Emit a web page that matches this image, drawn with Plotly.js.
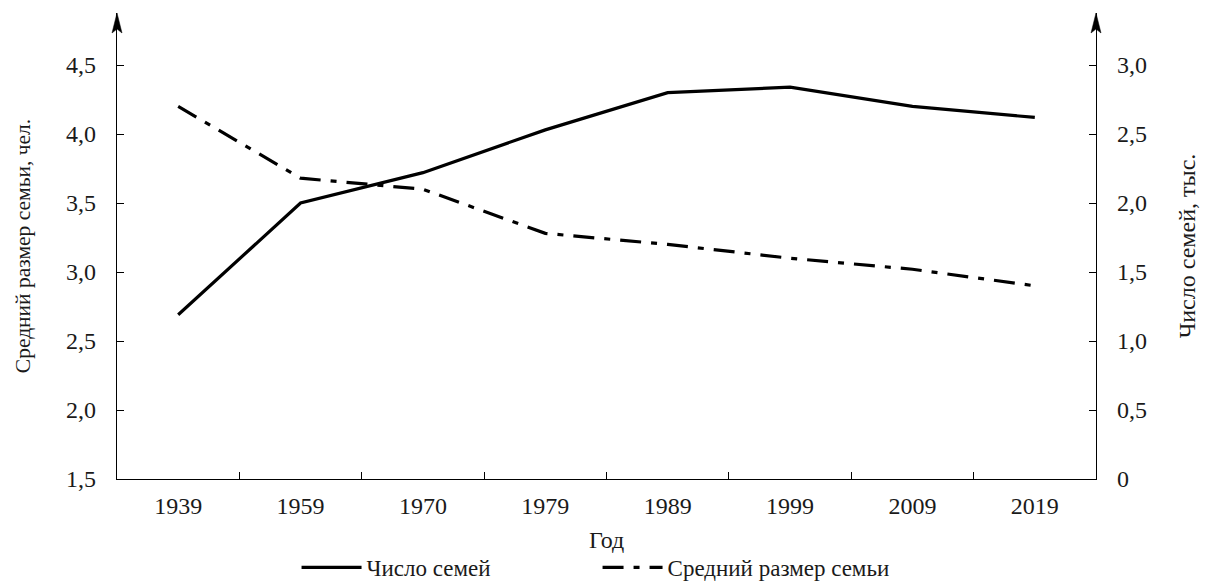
<!DOCTYPE html>
<html>
<head>
<meta charset="utf-8">
<script src="https://cdn.plot.ly/plotly-3.0.1.min.js"></script>
<style>html,body{margin:0;padding:0;background:#fff;}#chart{width:1205px;height:583px;}</style>
</head>
<body>
<div id="chart"></div>
<script>
const years = ['1939', '1959', '1970', '1979', '1989', '1999', '2009', '2019'];
const familiesCount = [1.19, 2.0, 2.22, 2.53, 2.8, 2.84, 2.7, 2.62];
const avgFamilySize = [4.2, 3.68, 3.6, 3.28, 3.2, 3.1, 3.02, 2.9];
const leftTickVals = [1.5, 2.0, 2.5, 3.0, 3.5, 4.0, 4.5];
const leftTickText = ['1,5', '2,0', '2,5', '3,0', '3,5', '4,0', '4,5'];
const rightTickVals = [0, 0.5, 1.0, 1.5, 2.0, 2.5, 3.0];
const rightTickText = ['0', '0,5', '1,0', '1,5', '2,0', '2,5', '3,0'];
const xTitle = 'Год';

const FONT = 'Liberation Serif, Times New Roman, serif';
const TXT = '#1a1a1a';
const black = '#000';

const traces = [
  {
    x: years, y: familiesCount, yaxis: 'y2', type: 'scatter', mode: 'lines',
    name: 'Число семей',
    line: {color: black, width: 3.2}
  },
  {
    x: years, y: avgFamilySize, yaxis: 'y', type: 'scatter', mode: 'lines',
    name: 'Средний размер семьи',
    line: {color: black, width: 3.2, dash: '21px,10px,6px,10px'}
  }
];

const arrow = (xa) => ({
  type: 'path', xref: 'paper', yref: 'paper',
  xsizemode: 'pixel', ysizemode: 'pixel', xanchor: xa, yanchor: 1,
  path: 'M0,0 L-5,-20 L0,-16 L5,-20 Z',
  fillcolor: black, line: {color: black, width: 0.5}
});

const layout = {
  width: 1205, height: 583,
  margin: {l: 117, r: 109, t: 13, b: 104, autoexpand: false},
  paper_bgcolor: '#fff', plot_bgcolor: '#fff',
  font: {family: FONT, size: 22, color: TXT},
  showlegend: true,
  legend: {
    orientation: 'h', xref: 'paper', x: 0.1834, xanchor: 'left',
    yref: 'paper', y: -0.236, yanchor: 'bottom',
    font: {family: FONT, size: 23, color: TXT},
    itemwidth: 60, entrywidth: 226, entrywidthmode: 'pixels',
    bgcolor: 'rgba(0,0,0,0)'
  },
  xaxis: {
    type: 'category', range: [-0.5, 7.5],
    showline: true, linecolor: black, linewidth: 1.3,
    ticks: 'inside', ticklen: 7, tickwidth: 1, tickcolor: black,
    tickson: 'boundaries', showgrid: false, zeroline: false,
    ticklabelstandoff: 5,
    tickfont: {family: FONT, size: 24, color: TXT},
    fixedrange: true
  },
  yaxis: {
    range: [1.5, 4.877], showline: true, linecolor: black, linewidth: 1.3,
    ticks: 'inside', ticklen: 7, tickwidth: 1, tickcolor: black,
    tickvals: leftTickVals, ticktext: leftTickText,
    showgrid: false, zeroline: false,
    ticklabelstandoff: 15,
    tickfont: {family: FONT, size: 24, color: TXT},
    title: {text: 'Средний размер семьи, чел.', font: {family: FONT, size: 21.5, color: TXT}, standoff: 29},
    fixedrange: true
  },
  yaxis2: {
    overlaying: 'y', side: 'right',
    range: [0, 3.377], showline: true, linecolor: black, linewidth: 1.3,
    ticks: 'inside', ticklen: 7, tickwidth: 1, tickcolor: black,
    tickvals: rightTickVals, ticktext: rightTickText,
    showgrid: false, zeroline: false,
    ticklabelstandoff: 15,
    tickfont: {family: FONT, size: 24, color: TXT},
    title: {text: 'Число семей, тыс.', font: {family: FONT, size: 24, color: TXT}, standoff: 32},
    fixedrange: true
  },
  annotations: [{
    text: xTitle, xref: 'paper', yref: 'paper', x: 0.5, y: -0.131,
    xanchor: 'center', yanchor: 'middle', showarrow: false,
    font: {family: FONT, size: 24, color: TXT}
  }],
  shapes: [arrow(0), arrow(1)]
};

Plotly.newPlot('chart', traces, layout, {displayModeBar: false, staticPlot: true});
</script>
</body>
</html>
